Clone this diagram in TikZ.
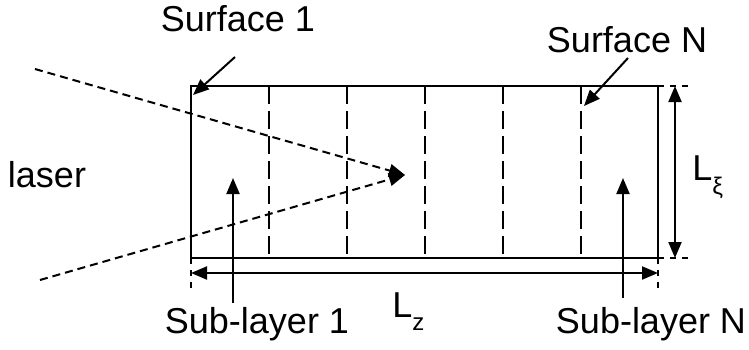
\documentclass[tikz,border=0pt]{standalone}
\usepackage{fontspec}
\setmainfont{Liberation Sans}
\usetikzlibrary{arrows.meta,positioning}
\newcommand{\lowsub}[2]{\raisebox{#1}{\fontsize{12}{12}\selectfont #2}}

\begin{document}
\begin{tikzpicture}[x=0.5pt, y=0.5pt,
   lbl/.style={font=\fontsize{18}{20}\selectfont, inner sep=0pt},
   edge/.style={line width=1pt},
   divider/.style={line width=1pt, dash pattern=on 9pt off 3.5pt},
   beam/.style={line width=1pt, dash pattern=on 4pt off 2.5pt,
                -{Triangle[length=8pt,width=6.5pt]}},
   ext/.style={line width=0.8pt, dash pattern=on 3pt off 3pt},
   dim/.style={line width=1pt,
               {Triangle[length=8pt,width=6.5pt]}-{Triangle[length=8pt,width=6.5pt]}},
   pointer/.style={line width=1pt, -{Triangle[length=8pt,width=6.5pt]}}]
\useasboundingbox (0,0) rectangle (749,349);
% slab with its sub-layers
\coordinate (sw) at (191,91);
\coordinate (se) at (658,91);
\coordinate (nw) at (191,263);
\coordinate (ne) at (658,263);
\draw[edge] (sw) rectangle (ne);
\foreach \k in {1,...,5}
  \draw[divider] (191+78*\k,263) -- (191+78*\k,91);
% laser beam
\coordinate (focus) at (405,174);
\coordinate (beamtop) at (35,280);
\coordinate (beambot) at (40,69);
\draw[beam] (beamtop) -- (focus);
\draw[beam] (beambot) -- (focus);
\node[lbl, anchor=base] (laser) at (47,162) {laser};
% surfaces and sub-layers
\node[lbl, anchor=base] (surf1) at (238,317) {Surface 1};
\node[lbl, anchor=base] (surfN) at (627,297) {Surface N};
\node[lbl, anchor=base] (sub1) at (257,16) {Sub-layer 1};
\node[lbl, anchor=base] (subN) at (651,16) {Sub-layer N};
\coordinate (s1from) at (235,292);
\coordinate (s1to) at (193,254);
\coordinate (sNfrom) at (628,291);
\coordinate (sNto) at (584,243);
\coordinate (b1from) at (233,46);
\coordinate (b1to) at (233,171);
\coordinate (bNfrom) at (623,51);
\coordinate (bNto) at (623,171);
\draw[pointer] (s1from) -- (s1to);
\draw[pointer] (sNfrom) -- (sNto);
\draw[pointer] (b1from) -- (b1to);
\draw[pointer] (bNfrom) -- (bNto);
% dimensions
\coordinate (xiend1) at (690,263);
\coordinate (xiend2) at (690,91);
\coordinate (zend1) at (191,56);
\coordinate (zend2) at (658,56);
\draw[ext] (ne) -- (xiend1);
\draw[ext] (se) -- (xiend2);
\draw[ext] (sw) -- (zend1);
\draw[ext] (se) -- (zend2);
\coordinate (xitop) at (675,263);
\coordinate (xibot) at (675,91);
\coordinate (zleft) at (191,76);
\coordinate (zright) at (658,76);
\draw[dim] (xitop) -- (xibot);
\draw[dim] (zleft) -- (zright);
\node[lbl, anchor=base west] (lxi) at (692,169) {L\lowsub{-7pt}{ξ}};
\node[lbl, anchor=base west] (lz) at (392,32) {L\lowsub{-6.5pt}{z}};
\end{tikzpicture}
\end{document}
